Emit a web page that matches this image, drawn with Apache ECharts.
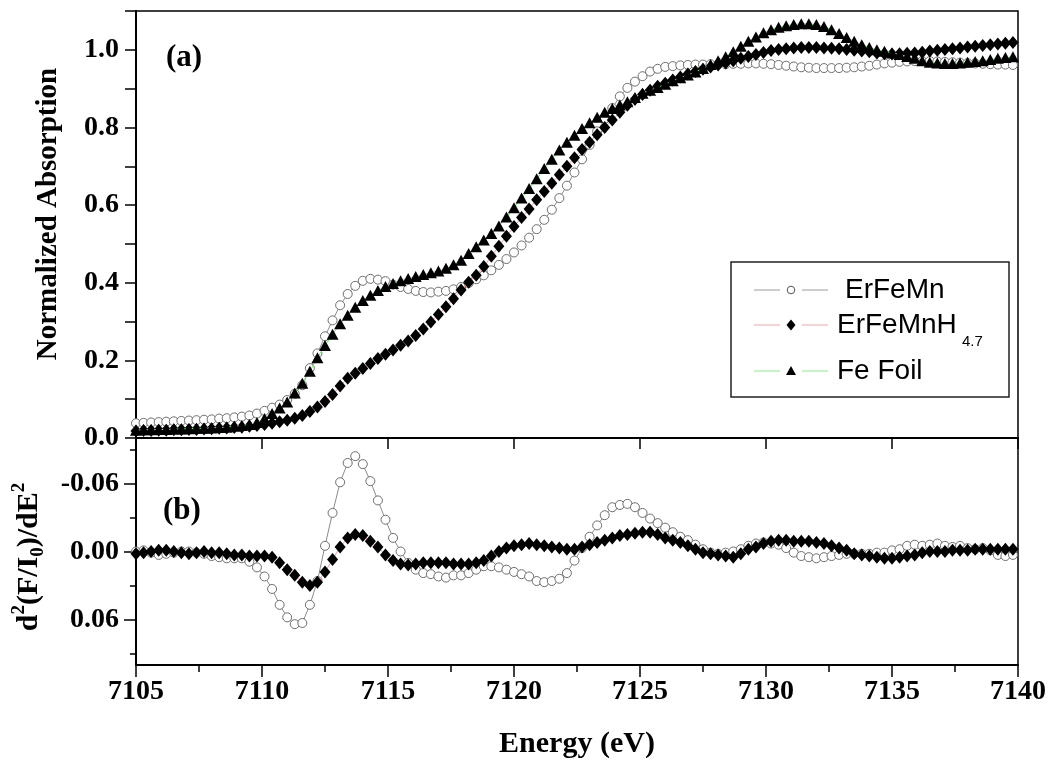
<!DOCTYPE html>
<html>
<head>
<meta charset="utf-8">
<title>Fe K-edge XANES</title>
<script src="https://cdn.jsdelivr.net/npm/echarts@6.0.0/dist/echarts.min.js"></script>
<style>
  html, body { margin: 0; padding: 0; background: #fff; }
  #chart { width: 1054px; height: 767px; }
</style>
</head>
<body>
<div id="chart"></div>
<script>
// Photon energy grid (eV), shared by all spectra
const energy = [
  7105.0,7105.3,7105.6,7105.9,7106.2,7106.5,7106.8,7107.1,7107.4,7107.7,
  7108.0,7108.3,7108.6,7108.9,7109.2,7109.5,7109.8,7110.1,7110.4,7110.7,
  7111.0,7111.3,7111.6,7111.9,7112.2,7112.5,7112.8,7113.1,7113.4,7113.7,
  7114.0,7114.3,7114.6,7114.9,7115.2,7115.5,7115.8,7116.1,7116.4,7116.7,
  7117.0,7117.3,7117.6,7117.9,7118.2,7118.5,7118.8,7119.1,7119.4,7119.7,
  7120.0,7120.3,7120.6,7120.9,7121.2,7121.5,7121.8,7122.1,7122.4,7122.7,
  7123.0,7123.3,7123.6,7123.9,7124.2,7124.5,7124.8,7125.1,7125.4,7125.7,
  7126.0,7126.3,7126.6,7126.9,7127.2,7127.5,7127.8,7128.1,7128.4,7128.7,
  7129.0,7129.3,7129.6,7129.9,7130.2,7130.5,7130.8,7131.1,7131.4,7131.7,
  7132.0,7132.3,7132.6,7132.9,7133.2,7133.5,7133.8,7134.1,7134.4,7134.7,
  7135.0,7135.3,7135.6,7135.9,7136.2,7136.5,7136.8,7137.1,7137.4,7137.7,
  7138.0,7138.3,7138.6,7138.9,7139.2,7139.5,7139.8
];

// (a) normalized absorption
const absErFeMn = [
  0.038,0.039,0.040,0.041,0.042,0.043,0.044,0.045,0.046,0.047,
  0.048,0.050,0.051,0.053,0.055,0.058,0.063,0.070,0.078,0.086,
  0.098,0.114,0.136,0.180,0.218,0.262,0.303,0.342,0.371,0.392,
  0.405,0.410,0.408,0.404,0.395,0.389,0.384,0.379,0.376,0.375,
  0.377,0.379,0.383,0.389,0.399,0.409,0.419,0.432,0.446,0.461,
  0.478,0.496,0.516,0.538,0.562,0.588,0.618,0.650,0.684,0.718,
  0.755,0.790,0.822,0.850,0.880,0.902,0.918,0.932,0.944,0.951,
  0.956,0.958,0.960,0.961,0.962,0.962,0.963,0.963,0.963,0.964,
  0.964,0.965,0.965,0.964,0.963,0.961,0.959,0.957,0.955,0.954,
  0.953,0.953,0.953,0.953,0.954,0.955,0.957,0.959,0.962,0.965,
  0.967,0.969,0.970,0.971,0.971,0.971,0.970,0.969,0.968,0.967,
  0.966,0.965,0.964,0.963,0.962,0.962,0.961
];
const absErFeMnH = [
  0.018,0.019,0.019,0.020,0.020,0.021,0.021,0.022,0.022,0.023,
  0.024,0.025,0.026,0.027,0.028,0.030,0.032,0.035,0.038,0.042,
  0.046,0.051,0.058,0.068,0.080,0.094,0.112,0.134,0.154,0.167,
  0.179,0.192,0.205,0.216,0.227,0.239,0.250,0.264,0.281,0.299,
  0.318,0.338,0.359,0.381,0.401,0.419,0.442,0.468,0.494,0.520,
  0.545,0.568,0.590,0.614,0.635,0.656,0.678,0.700,0.722,0.743,
  0.762,0.781,0.800,0.819,0.839,0.857,0.872,0.885,0.896,0.906,
  0.914,0.922,0.930,0.938,0.944,0.950,0.956,0.961,0.966,0.972,
  0.978,0.983,0.988,0.993,0.998,1.001,1.003,1.005,1.006,1.006,
  1.006,1.005,1.004,1.003,1.001,0.999,0.997,0.995,0.992,0.990,
  0.989,0.990,0.991,0.992,0.994,0.997,0.999,1.001,1.003,1.005,
  1.007,1.009,1.011,1.013,1.015,1.017,1.019
];
const absFeFoil = [
  0.020,0.021,0.021,0.022,0.022,0.023,0.023,0.024,0.025,0.025,
  0.026,0.027,0.028,0.030,0.032,0.035,0.040,0.050,0.063,0.077,
  0.093,0.116,0.141,0.172,0.207,0.238,0.267,0.294,0.316,0.337,
  0.354,0.368,0.380,0.390,0.398,0.405,0.411,0.416,0.421,0.426,
  0.430,0.437,0.446,0.458,0.475,0.493,0.510,0.527,0.546,0.569,
  0.593,0.618,0.643,0.668,0.694,0.718,0.742,0.762,0.780,0.797,
  0.812,0.826,0.839,0.849,0.858,0.866,0.877,0.888,0.896,0.903,
  0.911,0.920,0.928,0.935,0.943,0.952,0.962,0.972,0.982,0.995,
  1.009,1.022,1.033,1.044,1.052,1.058,1.062,1.065,1.067,1.067,
  1.065,1.060,1.052,1.042,1.032,1.022,1.013,1.006,1.000,0.996,
  0.992,0.988,0.983,0.978,0.972,0.968,0.966,0.965,0.965,0.966,
  0.968,0.970,0.972,0.975,0.978,0.980,0.982
];

// (b) second derivative d2(F/I0)/dE2
const d2ErFeMn = [
  0.000,-0.001,0.001,0.003,0.002,0.001,0.000,0.000,0.001,0.002,
  0.004,0.005,0.006,0.006,0.006,0.009,0.014,0.022,0.033,0.047,
  0.058,0.064,0.063,0.047,0.026,-0.005,-0.034,-0.061,-0.078,-0.084,
  -0.077,-0.062,-0.045,-0.028,-0.012,0.000,0.010,0.016,0.019,0.020,
  0.022,0.023,0.021,0.021,0.019,0.016,0.013,0.013,0.014,0.016,
  0.018,0.020,0.022,0.026,0.027,0.026,0.024,0.019,0.008,-0.003,
  -0.013,-0.023,-0.032,-0.039,-0.041,-0.042,-0.039,-0.034,-0.029,-0.025,
  -0.021,-0.017,-0.013,-0.010,-0.006,-0.002,0.001,0.002,0.001,0.000,
  -0.002,-0.005,-0.007,-0.008,-0.007,-0.006,-0.003,0.001,0.004,0.005,
  0.006,0.005,0.004,0.003,0.002,0.002,0.002,0.002,0.001,0.001,
  -0.001,-0.002,-0.005,-0.006,-0.005,-0.006,-0.007,-0.005,-0.004,-0.005,
  -0.003,-0.002,-0.003,-0.001,0.003,0.004,0.003
];
const d2ErFeMnH = [
  0.002,0.001,0.000,-0.001,-0.001,0.000,0.001,0.002,0.001,0.000,
  0.001,0.001,0.002,0.003,0.003,0.004,0.004,0.004,0.005,0.010,
  0.016,0.021,0.027,0.030,0.027,0.018,0.007,-0.004,-0.012,-0.015,
  -0.014,-0.009,-0.004,0.003,0.008,0.011,0.012,0.011,0.010,0.010,
  0.010,0.010,0.011,0.011,0.011,0.010,0.008,0.004,0.000,-0.003,
  -0.005,-0.006,-0.007,-0.006,-0.005,-0.004,-0.003,-0.002,-0.002,-0.004,
  -0.006,-0.008,-0.010,-0.012,-0.014,-0.015,-0.016,-0.017,-0.017,-0.015,
  -0.012,-0.010,-0.008,-0.005,-0.002,0.001,0.002,0.003,0.004,0.005,
  0.002,-0.002,-0.004,-0.007,-0.009,-0.010,-0.010,-0.009,-0.009,-0.009,
  -0.008,-0.007,-0.005,-0.003,-0.001,0.002,0.003,0.004,0.005,0.006,
  0.006,0.005,0.004,0.003,0.001,0.000,0.000,0.000,-0.001,-0.001,
  -0.001,-0.002,-0.002,-0.002,-0.002,-0.002,-0.002
];

const sampleNames = ['ErFeMn', 'ErFeMnH', 'Fe Foil'];
const hydrideSubscript = '4.7';
const d2MajorTicks = [-0.06, 0, 0.06];
const d2MinorTicks = [-0.09, -0.03, 0.03, 0.09];

const SERIF = '"Liberation Serif", "Times New Roman", serif';
const SANS = '"Liberation Sans", Arial, sans-serif';
const pair = ys => energy.map((e, i) => [e, ys[i]]);

const styles = [
  { symbol: 'circle', symbolSize: 9, item: { color: '#fff', borderColor: '#6e6e6e', borderWidth: 1 }, line: '#8c8c8c' },
  { symbol: 'diamond', symbolSize: [11, 13], item: { color: '#000' }, line: '#f2a0a0' },
  { symbol: 'triangle', symbolSize: [12, 11], item: { color: '#000' }, line: '#7ee87e' }
];

function makeSeries(idx, values, panel) {
  const s = styles[idx];
  return {
    name: sampleNames[idx] + (panel === 0 ? '' : ' d2'),
    type: 'line',
    xAxisIndex: panel,
    yAxisIndex: panel,
    data: pair(values),
    symbol: s.symbol,
    symbolSize: s.symbolSize,
    showAllSymbol: true,
    itemStyle: s.item,
    lineStyle: { color: s.line, width: 1 },
    emphasis: { disabled: true },
    clip: true,
    z: 2 + idx
  };
}

const axisLineStyle = { color: '#000', width: 2 };
const tickStyle = { color: '#000', width: 1.5 };
const labelStyle = { color: '#000', fontFamily: SERIF, fontWeight: 'bold', fontSize: 28 };

// legend drawn as a framed box: line - symbol - line, then the sample name
const LX = 731, LY = 262;
const legendRows = [290, 325, 371];
const legendLineColors = ['#9a9a9a', '#f4a8a8', '#86ee86'];
const legendGraphics = [
  { type: 'rect', shape: { x: LX, y: LY, width: 278, height: 135 },
    style: { fill: '#fff', stroke: '#222', lineWidth: 1.5 }, z: 10 }
];
legendRows.forEach((cy, i) => {
  legendGraphics.push(
    { type: 'line', shape: { x1: 754, y1: cy, x2: 780, y2: cy }, style: { stroke: legendLineColors[i], lineWidth: 1 }, z: 11 },
    { type: 'line', shape: { x1: 802, y1: cy, x2: 828, y2: cy }, style: { stroke: legendLineColors[i], lineWidth: 1 }, z: 11 }
  );
});
legendGraphics.push(
  { type: 'circle', shape: { cx: 791, cy: legendRows[0], r: 3.8 }, style: { fill: '#fff', stroke: '#555', lineWidth: 1 }, z: 12 },
  { type: 'polygon', shape: { points: [[791, legendRows[1] - 5.5], [795.5, legendRows[1]], [791, legendRows[1] + 5.5], [786.5, legendRows[1]]] }, style: { fill: '#000' }, z: 12 },
  { type: 'polygon', shape: { points: [[791, legendRows[2] - 5], [796, legendRows[2] + 4], [786, legendRows[2] + 4]] }, style: { fill: '#000' }, z: 12 },
  { type: 'text', x: 845, y: legendRows[0], style: { text: sampleNames[0], font: '28px ' + SANS, fill: '#000', verticalAlign: 'middle' }, z: 12 },
  { type: 'text', x: 837, y: legendRows[1], style: { text: sampleNames[1], font: '28px ' + SANS, fill: '#000', verticalAlign: 'middle' }, z: 12 },
  { type: 'text', x: 962, y: legendRows[1] + 17, style: { text: hydrideSubscript, font: '15px ' + SANS, fill: '#000', verticalAlign: 'middle' }, z: 12 },
  { type: 'text', x: 837, y: legendRows[2], style: { text: sampleNames[2], font: '28px ' + SANS, fill: '#000', verticalAlign: 'middle' }, z: 12 }
);

const option = {
  animation: false,
  backgroundColor: '#fff',
  grid: [
    { left: 136, right: 36, top: 11, height: 427, show: true, borderColor: '#000', borderWidth: 1.5 },
    { left: 136, right: 36, top: 438, height: 227, show: true, borderColor: '#000', borderWidth: 1.5 }
  ],
  xAxis: [
    {
      type: 'value', gridIndex: 0, min: 7105, max: 7140, interval: 5, position: 'bottom',
      axisLine: { show: true, onZero: false, lineStyle: axisLineStyle },
      axisTick: { show: true, inside: false, length: 11, lineStyle: tickStyle },
      axisLabel: { show: false },
      splitLine: { show: false }
    },
    {
      type: 'value', gridIndex: 1, min: 7105, max: 7140, interval: 5, position: 'bottom',
      axisLine: { show: true, onZero: false, lineStyle: axisLineStyle },
      axisTick: { show: true, inside: false, length: 12, lineStyle: tickStyle },
      minorTick: { show: true, splitNumber: 2, length: 7, lineStyle: tickStyle },
      axisLabel: Object.assign({ margin: 13, formatter: v => String(Math.round(v)) }, labelStyle),
      splitLine: { show: false },
      name: 'Energy (eV)', nameLocation: 'middle', nameGap: 64,
      nameTextStyle: { color: '#000', fontFamily: SERIF, fontWeight: 'bold', fontSize: 30 }
    }
  ],
  yAxis: [
    {
      type: 'value', gridIndex: 0, min: 0, max: 1.1, interval: 0.1, position: 'left',
      axisLine: { show: true, onZero: false, lineStyle: axisLineStyle },
      axisTick: { show: true, inside: false, length: 11, lineStyle: tickStyle },
      axisLabel: Object.assign({
        margin: 17,
        formatter: v => {
          const k = Math.round(v * 10);
          return (k % 2 === 0 && k <= 10) ? (k / 10).toFixed(1) : '';
        }
      }, labelStyle),
      splitLine: { show: false }
    },
    {
      type: 'value', gridIndex: 1, min: -0.1, max: 0.1, inverse: true, position: 'left', offset: 0,
      axisLine: { show: true, onZero: false, lineStyle: axisLineStyle },
      axisTick: { show: true, inside: false, length: 12, lineStyle: tickStyle, customValues: d2MajorTicks },
      axisLabel: Object.assign({ margin: 17, customValues: d2MajorTicks, formatter: v => v.toFixed(2) }, labelStyle),
      splitLine: { show: false }
    },
    {
      type: 'value', gridIndex: 1, min: -0.1, max: 0.1, inverse: true, position: 'left', offset: 0,
      axisLine: { show: false, onZero: false },
      axisTick: { show: true, inside: false, length: 6, lineStyle: tickStyle, customValues: d2MinorTicks },
      axisLabel: { show: false, customValues: d2MinorTicks },
      splitLine: { show: false }
    }
  ],
  series: [
    makeSeries(0, absErFeMn, 0),
    makeSeries(1, absErFeMnH, 0),
    makeSeries(2, absFeFoil, 0),
    makeSeries(0, d2ErFeMn, 1),
    makeSeries(1, d2ErFeMnH, 1)
  ],
  graphic: [
    { type: 'text', x: 49, y: 214, rotation: Math.PI / 2,
      style: { text: 'Normalized Absorption', font: 'bold 29px ' + SERIF, fill: '#000', align: 'center', verticalAlign: 'middle' } },
    { type: 'text', x: 29, y: 557, rotation: Math.PI / 2,
      style: {
        text: '{m|d}{sup|2}{m|(F/I}{sub|0}{m|)/dE}{sup|2}',
        align: 'center', verticalAlign: 'middle',
        rich: {
          m: { fontFamily: SERIF, fontWeight: 'bold', fontSize: 30, lineHeight: 38, fill: '#000', color: '#000' },
          sup: { fontFamily: SERIF, fontWeight: 'bold', fontSize: 19, lineHeight: 38, verticalAlign: 'top', fill: '#000', color: '#000' },
          sub: { fontFamily: SERIF, fontWeight: 'bold', fontSize: 19, lineHeight: 38, verticalAlign: 'bottom', fill: '#000', color: '#000' }
        }
      } },
    { type: 'text', x: 166, y: 58, style: { text: '(a)', font: 'bold 31px ' + SERIF, fill: '#000', verticalAlign: 'middle' }, z: 10 },
    { type: 'text', x: 163, y: 511, style: { text: '(b)', font: 'bold 31px ' + SERIF, fill: '#000', verticalAlign: 'middle' }, z: 10 }
  ].concat(legendGraphics)
};

const chart = echarts.init(document.getElementById('chart'), null, { renderer: 'canvas' });
chart.setOption(option);
</script>
</body>
</html>
